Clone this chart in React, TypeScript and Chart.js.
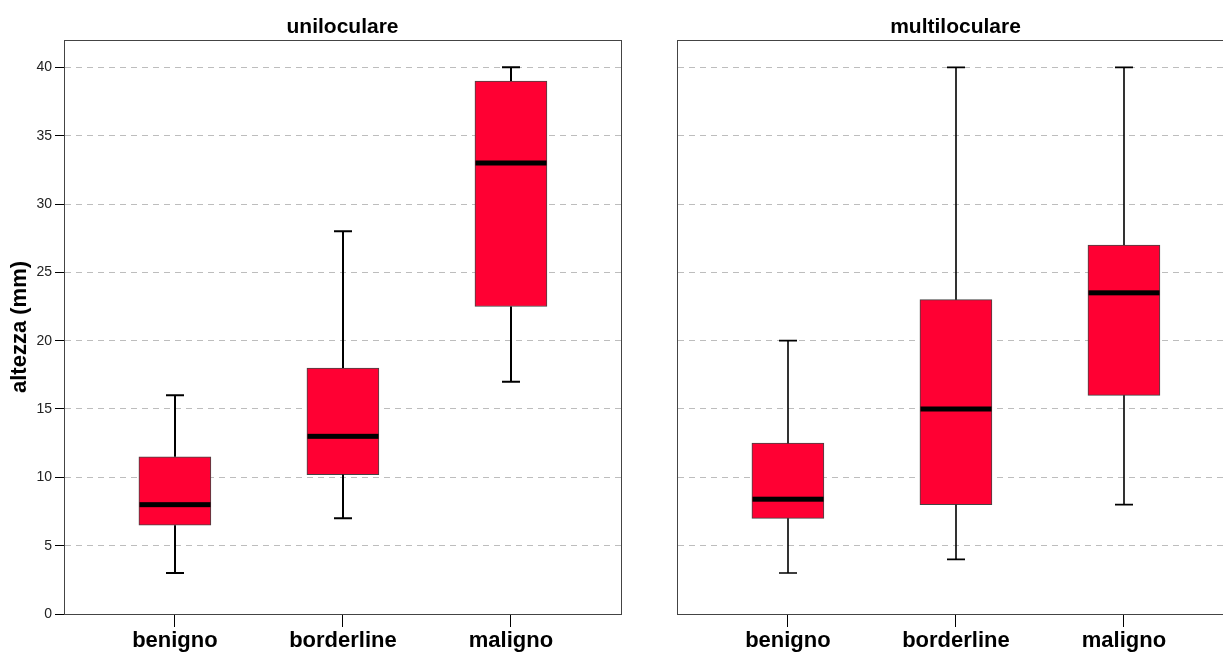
import React, { useEffect, useRef } from 'react';
import { Chart, registerables } from 'chart.js';

Chart.register(...registerables);

const categories = ['benigno', 'borderline', 'maligno'];
const categoryIndex = [0, 1, 2];
const yTicks = [0, 5, 10, 15, 20, 25, 30, 35, 40];

const uniMin = [3, 7, 17];
const uniQ1 = [6.5, 10.2, 22.5];
const uniMedian = [8, 13, 33];
const uniQ3 = [11.5, 18, 39];
const uniMax = [16, 28, 40];

const multiMin = [3, 4, 8];
const multiQ1 = [7, 8, 16];
const multiMedian = [8.4, 15, 23.5];
const multiQ3 = [12.5, 23, 27];
const multiMax = [20, 40, 40];

const FONT = '"Liberation Sans", Arial, Helvetica, sans-serif';

type PanelProps = {
  title: string;
  mins: number[];
  q1s: number[];
  meds: number[];
  q3s: number[];
  maxs: number[];
  left: number;
  width: number;
  axisWidth: number;
  showYAxis: boolean;
  whiskerWidth: number;
};

function BoxPanel(p: PanelProps) {
  const ref = useRef<HTMLCanvasElement>(null);

  useEffect(() => {
    if (!ref.current) return;

    const boxPlugin = {
      id: 'boxWhiskers',
      afterDatasetsDraw(chart: any) {
        const { ctx } = chart;
        const x = chart.scales.x;
        const y = chart.scales.y;
        ctx.save();
        ctx.strokeStyle = '#000';
        ctx.fillStyle = '#000';
        ctx.lineWidth = p.whiskerWidth;
        categoryIndex.forEach((i) => {
          const cx = Math.round(x.getPixelForValue(i));
          const yMin = y.getPixelForValue(p.mins[i]);
          const yQ1 = y.getPixelForValue(p.q1s[i]);
          const yQ3 = y.getPixelForValue(p.q3s[i]);
          const yMax = y.getPixelForValue(p.maxs[i]);
          const yMed = y.getPixelForValue(p.meds[i]);
          ctx.beginPath();
          ctx.moveTo(cx, yQ3);
          ctx.lineTo(cx, yMax);
          ctx.moveTo(cx, yQ1);
          ctx.lineTo(cx, yMin);
          ctx.moveTo(cx - 9, yMax);
          ctx.lineTo(cx + 9, yMax);
          ctx.moveTo(cx - 9, yMin);
          ctx.lineTo(cx + 9, yMin);
          ctx.stroke();
          ctx.fillRect(cx - 35.5, yMed - 2.5, 71, 5);
        });
        ctx.restore();
      },
      afterDraw(chart: any) {
        const { ctx, chartArea } = chart;
        ctx.save();
        ctx.strokeStyle = '#444';
        ctx.lineWidth = 1;
        const l = Math.round(chartArea.left) + 0.5;
        const t = Math.round(chartArea.top) + 0.5;
        const r = Math.round(chartArea.right) + 0.5;
        const b = Math.round(chartArea.bottom) + 0.5;
        ctx.strokeRect(l, t, r - l, b - t);
        ctx.restore();
      },
    };

    const chart = new Chart(ref.current, {
      type: 'bar',
      data: {
        datasets: [
          {
            data: categoryIndex.map((i) => ({ x: i, y: [p.q1s[i], p.q3s[i]] })) as any,
            backgroundColor: '#FF0033',
            borderColor: '#444',
            borderWidth: 1,
            borderSkipped: false,
            barThickness: 72,
          },
        ],
      },
      options: {
        responsive: false,
        animation: false,
        events: [],
        layout: { padding: 0 },
        plugins: {
          legend: { display: false },
          tooltip: { enabled: false },
          title: {
            display: true,
            text: p.title,
            color: '#000',
            font: { family: FONT, size: 21, weight: 'bold' },
            padding: { top: 14.8, bottom: 0 },
          },
        },
        scales: {
          x: {
            type: 'linear',
            offset: false,
            min: -0.66,
            max: 2.655,
            afterBuildTicks: (scale: any) => {
              scale.ticks = categoryIndex.map((v) => ({ value: v }));
            },
            afterFit: (scale: any) => {
              scale.height = 38;
            },
            ticks: {
              callback: (value: any) => categories[Number(value)] ?? '',
              color: '#000',
              font: { family: FONT, size: 22, weight: 'bold' },
              padding: 1,
              maxRotation: 0,
              autoSkip: false,
            },
            grid: {
              display: true,
              offset: false,
              drawOnChartArea: false,
              drawTicks: true,
              tickLength: 13,
              tickColor: '#000',
              lineWidth: 1,
              color: '#000',
            },
            border: { display: true, color: '#444', width: 1 },
          },
          y: {
            min: 0,
            max: 42,
            afterBuildTicks: (scale: any) => {
              scale.ticks = yTicks.map((v) => ({ value: v }));
            },
            afterFit: (scale: any) => {
              scale.width = p.axisWidth;
            },
            ticks: {
              display: p.showYAxis,
              color: '#222',
              font: { family: FONT, size: 14 },
              padding: 3,
            },
            title: {
              display: p.showYAxis,
              text: 'altezza (mm)',
              color: '#000',
              font: { family: FONT, size: 22, weight: 'bold' },
              padding: { top: 7, bottom: 0 },
            },
            grid: {
              color: (ctx: any) => (ctx.tick && ctx.tick.value === 0 ? 'rgba(0,0,0,0)' : '#bdbdbd'),
              lineWidth: 1,
              drawTicks: p.showYAxis,
              tickLength: 9,
              tickColor: '#000',
            },
            border: { display: true, color: '#444', width: 1, dash: [6, 5] },
          },
          yRight: {
            position: 'right',
            min: 0,
            max: 42,
            afterFit: (scale: any) => {
              scale.width = p.axisWidth;
            },
            ticks: { display: false },
            grid: { display: false, drawTicks: false },
            border: { display: false },
            title: { display: false },
          },
        },
      } as any,
      plugins: [boxPlugin],
    });

    return () => chart.destroy();
  }, []);

  return (
    <canvas
      ref={ref}
      width={p.width}
      height={652}
      style={{ position: 'absolute', left: p.left, top: 0, width: p.width, height: 652 }}
    />
  );
}

export default function App() {
  return (
    <div
      style={{
        position: 'fixed',
        left: 0,
        top: 0,
        width: 1223,
        height: 652,
        overflow: 'hidden',
        background: '#fff',
      }}
    >
      <BoxPanel
        title="uniloculare"
        mins={uniMin}
        q1s={uniQ1}
        meds={uniMedian}
        q3s={uniQ3}
        maxs={uniMax}
        left={0}
        width={685}
        axisWidth={64}
        showYAxis={true}
        whiskerWidth={2}
      />
      <BoxPanel
        title="multiloculare"
        mins={multiMin}
        q1s={multiQ1}
        meds={multiMedian}
        q3s={multiQ3}
        maxs={multiMax}
        left={640}
        width={631}
        axisWidth={37}
        showYAxis={false}
        whiskerWidth={1.6}
      />
    </div>
  );
}
